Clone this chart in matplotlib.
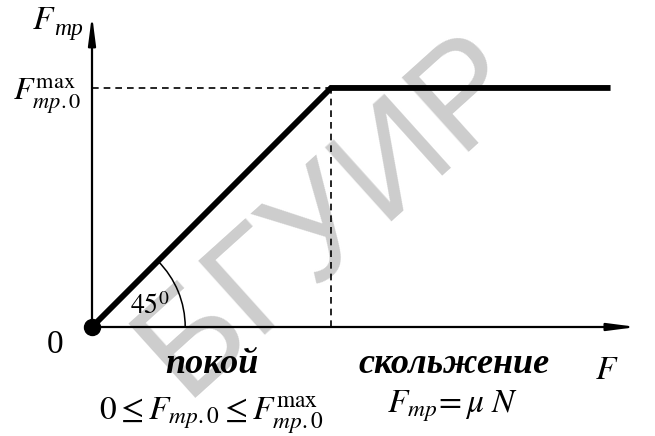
import matplotlib
matplotlib.use('Agg')
import matplotlib.pyplot as plt
import numpy as np
from matplotlib.patches import Arc

plt.rcParams['font.family'] = ['Liberation Serif', 'DejaVu Serif']
plt.rcParams['mathtext.fontset'] = 'stix'

# applied force F and friction force F_tr (in units of the static maximum)
force = [0.0, 1.0, 2.17]
friction = [0.0, 1.0, 1.0]
f_static_max = 1.0
angle_deg = 45

fig = plt.figure(figsize=(6.55, 4.36), dpi=100)
ax = fig.add_axes([0, 0, 1, 1])
ax.set_xlim(-0.385, 2.356)
ax.set_ylim(-0.456, 1.368)
ax.axis('off')

# watermark
ax.text(1.0, 0.47, 'БГУИР', fontsize=104, family=['Liberation Sans Narrow', 'Liberation Sans'],
        color='#cdcdcd', rotation=42, ha='center', va='center', zorder=0)

# axes with arrows
arrow = dict(arrowstyle='-|>,head_length=1.7,head_width=0.22', color='black', lw=1.6,
             shrinkA=0, shrinkB=0)
ax.annotate('', xy=(2.28, 0), xytext=(0, 0), arrowprops=arrow, zorder=3)
ax.annotate('', xy=(0, 1.305), xytext=(0, 0), arrowprops=arrow, zorder=3)

# dashed guides to the kink point
ax.plot([0, force[1]], [f_static_max, f_static_max], ls=(0, (4, 3)), color='black', lw=1.2, zorder=2)
ax.plot([force[1], force[1]], [0, f_static_max], ls=(0, (4, 3)), color='black', lw=1.2, zorder=2)

# friction characteristic
ax.plot(force, friction, color='black', lw=4.2, solid_capstyle='butt', solid_joinstyle='miter', zorder=4)
ax.plot([0], [0], 'o', color='black', ms=11.5, zorder=5)

# 45 degree arc
ax.add_patch(Arc((0, 0), 0.78, 0.78, theta1=0, theta2=angle_deg, color='black', lw=1.1, zorder=3))
ax.text(0.24, 0.085, r'$\mathrm{45}^{0}$', fontsize=20, ha='center', va='center')

# labels
ax.text(-0.155, -0.075, '0', fontsize=24, ha='center', va='center')
ax.text(-0.20, 1.28, r'$F$', fontsize=24, ha='center', va='center')
ax.text(-0.16, 1.245, 'тр', fontsize=17, style='italic', ha='left', va='center')
ax.text(-0.045, 0.965, r'$F_{mp.0}^{\mathrm{max}}$', fontsize=23, ha='right', va='center')
ax.text(2.155, -0.185, r'$F$', fontsize=24, ha='center', va='center')

ax.text(0.5, -0.155, 'покой', fontsize=26, style='italic', weight='bold', ha='center', va='center')
ax.text(1.515, -0.155, 'скольжение', fontsize=26, style='italic', weight='bold', ha='center', va='center')
ax.text(0.5, -0.37, r'$0 \leq F_{mp.0} \leq F_{mp.0}^{\mathrm{max}}$', fontsize=24, ha='center', va='center')
ax.text(1.51, -0.33, r'$F_{mp}\!= \mu\ N$', fontsize=24, ha='center', va='center')

fig.savefig('out.png', dpi=100)
